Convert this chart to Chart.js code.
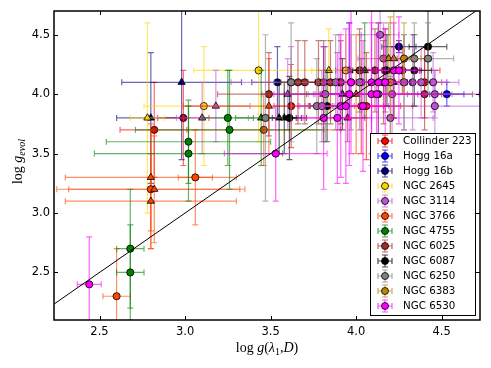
<!DOCTYPE html>
<html>
<head>
<meta charset="utf-8">
<script src="https://cdn.jsdelivr.net/npm/chart.js@4/dist/chart.umd.min.js"></script>
<style>
  html, body { margin: 0; padding: 0; background: #ffffff; }
</style>
</head>
<body>
<canvas id="chart" width="491" height="368"></canvas>
<script>
// axis ticks
const xTicks = [2.5, 3.0, 3.5, 4.0, 4.5];
const yTicks = [2.5, 3.0, 3.5, 4.0, 4.5];
const xRange = [2.234, 4.724];
const yRange = [2.1, 4.7];
const oneToOne = [2.2, 4.8];

// each point: [log g(lambda1,D), log g_evol, x error, y error, method ('c' or 't')]
const collinder223 = [
    [2.99, 3.8, 0.15, 0.40, 'c'], [2.82, 3.7, 0.20, 0.40, 'c'], [3.62, 3.9, 0.10, 0.35, 'c'],
    [4.03, 3.9, 0.30, 0.40, 'c'], [4.06, 3.9, 0.20, 0.45, 'c'], [4.40, 4.1, 0.10, 0.30, 'c'],
    [4.27, 4.2, 0.22, 0.20, 'c']
];
const hogg16a = [
    [4.53, 4.0, 0.10, 0.10, 'c'], [3.96, 4.2, 0.08, 0.40, 't']
];
const hogg16b = [
    [2.98, 4.1, 0.35, 0.65, 't'], [2.80, 3.8, 0.20, 0.55, 't'], [3.54, 4.1, 0.15, 0.30, 'c'],
    [4.25, 4.4, 0.10, 0.05, 'c']
];
const ngc2645 = [
    [2.78, 3.8, 0.10, 0.80, 't'], [3.11, 3.9, 0.35, 0.50, 'c'], [3.43, 4.2, 0.38, 0.60, 'c'],
    [3.84, 4.2, 0.10, 0.35, 't'], [3.94, 4.2, 0.10, 0.30, 'c']
];
const ngc3114 = [
    [3.10, 3.8, 0.15, 0.30, 't'], [3.18, 3.9, 0.20, 0.30, 't'], [3.60, 4.0, 0.15, 0.30, 't'],
    [3.62, 4.1, 0.35, 0.30, 'c'], [4.14, 4.5, 0.11, 0.20, 'c'], [4.16, 4.3, 0.15, 0.30, 'c'],
    [4.21, 4.0, 0.15, 0.40, 'c'], [4.20, 3.8, 0.25, 0.35, 'c'], [4.33, 4.1, 0.20, 0.40, 'c'],
    [4.38, 4.1, 0.15, 0.30, 'c'], [4.45, 4.1, 0.15, 0.25, 'c'], [4.46, 4.0, 0.10, 0.20, 'c'],
    [4.46, 3.9, 0.30, 0.30, 'c'], [4.28, 4.1, 0.10, 0.40, 'c'], [3.90, 4.1, 0.10, 0.40, 'c'],
    [4.03, 4.1, 0.10, 0.40, 'c']
];
const ngc3766 = [
    [2.60, 2.3, 0.08, 0.40, 'c'], [3.06, 3.3, 0.10, 0.40, 'c'], [2.80, 3.3, 0.50, 0.45, 't'],
    [2.80, 3.2, 0.55, 0.50, 'c'], [2.82, 3.2, 0.50, 0.45, 't'], [2.80, 3.1, 0.50, 0.40, 't'],
    [3.46, 3.7, 0.45, 0.30, 'c'], [3.49, 3.9, 0.50, 0.40, 't'], [4.00, 4.0, 0.20, 0.50, 't']
];
const ngc4755 = [
    [2.68, 2.7, 0.08, 0.50, 'c'], [2.68, 2.5, 0.08, 0.40, 'c'], [3.02, 3.6, 0.48, 0.35, 'c'],
    [3.02, 3.5, 0.55, 0.40, 'c'], [3.25, 3.8, 0.15, 0.40, 'c'], [3.26, 3.7, 0.55, 0.50, 'c'],
    [3.445, 3.8, 0.15, 0.40, 't'], [3.81, 4.0, 0.10, 0.40, 't'], [4.05, 4.2, 0.10, 0.40, 't'],
    [4.13, 4.0, 0.55, 0.60, 'c']
];
const ngc6025 = [
    [3.49, 4.0, 0.30, 0.35, 'c'], [3.66, 4.1, 0.10, 0.35, 'c'], [3.70, 4.1, 0.10, 0.35, 'c'],
    [3.78, 4.1, 0.10, 0.35, 'c'], [3.81, 4.1, 0.10, 0.35, 'c'], [3.85, 4.1, 0.15, 0.35, 'c'],
    [3.91, 4.1, 0.10, 0.35, 'c'], [4.02, 4.2, 0.10, 0.35, 'c'], [4.11, 4.2, 0.10, 0.35, 'c'],
    [4.17, 4.2, 0.20, 0.35, 'c'], [4.16, 4.1, 0.10, 0.35, 'c'], [3.95, 3.8, 0.10, 0.20, 't'],
    [4.40, 4.0, 0.10, 0.30, 'c']
];
const ngc6087 = [
    [4.42, 4.4, 0.11, 0.30, 'c'], [4.18, 4.2, 0.20, 0.30, 'c'], [4.34, 4.2, 0.10, 0.30, 'c'],
    [3.83, 3.9, 0.10, 0.30, 'c'], [3.61, 3.8, 0.10, 0.35, 'c'], [3.58, 3.8, 0.10, 0.30, 't'],
    [3.55, 3.8, 0.10, 0.30, 't'], [3.92, 4.0, 0.10, 0.30, 't'], [4.22, 4.1, 0.10, 0.30, 't']
];
const ngc6250 = [
    [3.47, 3.8, 0.10, 0.70, 'c'], [3.77, 3.9, 0.10, 0.40, 'c'], [3.80, 3.9, 0.10, 0.30, 'c'],
    [3.82, 4.0, 0.10, 0.40, 'c'], [3.88, 4.1, 0.10, 0.40, 'c'], [3.97, 4.1, 0.15, 0.40, 'c'],
    [4.02, 4.1, 0.10, 0.40, 'c'], [4.34, 4.3, 0.10, 0.30, 'c'], [4.42, 4.3, 0.15, 0.30, 'c'],
    [4.28, 4.1, 0.10, 0.40, 'c'], [3.62, 4.1, 0.10, 0.50, 'c']
];
const ngc6383 = [
    [4.19, 4.3, 0.05, 0.30, 't'], [4.22, 4.3, 0.05, 0.50, 't'], [4.28, 4.3, 0.10, 0.30, 'c'],
    [4.20, 4.1, 0.05, 0.55, 'c']
];
const ngc6530 = [
    [2.44, 2.4, 0.07, 0.40, 'c'], [3.53, 3.5, 0.30, 0.40, 'c'], [3.81, 3.8, 0.15, 0.60, 'c'],
    [3.89, 3.8, 0.20, 0.55, 'c'], [3.91, 3.9, 0.25, 0.60, 'c'], [3.94, 3.9, 0.15, 0.65, 'c'],
    [3.96, 4.0, 0.20, 0.60, 'c'], [4.04, 3.9, 0.15, 0.55, 'c'], [4.09, 4.0, 0.30, 0.60, 'c'],
    [4.12, 4.0, 0.60, 0.50, 'c'], [4.09, 4.1, 0.20, 0.60, 'c'], [4.13, 4.1, 0.15, 0.50, 'c'],
    [4.17, 4.1, 0.20, 0.45, 'c'], [4.22, 4.2, 0.15, 0.40, 'c'], [4.25, 4.2, 0.10, 0.45, 'c'],
    [3.97, 4.1, 0.15, 0.60, 'c']
];

const clusterNames = ['Collinder 223', 'Hogg 16a', 'Hogg 16b', 'NGC 2645', 'NGC 3114', 'NGC 3766',
    'NGC 4755', 'NGC 6025', 'NGC 6087', 'NGC 6250', 'NGC 6383', 'NGC 6530'];
const clusterPoints = [collinder223, hogg16a, hogg16b, ngc2645, ngc3114, ngc3766,
    ngc4755, ngc6025, ngc6087, ngc6250, ngc6383, ngc6530];
const clusterColors = ['#ff0000', '#0000ff', '#000080', '#ffd700', '#ba55d3', '#ff4500',
    '#008000', '#a52a2a', '#000000', '#808080', '#b8860b', '#ff00ff'];

function withAlpha(hex, a) {
    const n = parseInt(hex.slice(1), 16);
    return `rgba(${(n >> 16) & 255}, ${(n >> 8) & 255}, ${n & 255}, ${a})`;
}

// error bars are drawn just before each cluster's markers
const errorBars = {
    id: 'errorBars',
    beforeDatasetDraw(chart, args) {
        const ds = chart.data.datasets[args.index];
        if (!ds.errColor) return;
        const { ctx, chartArea: a } = chart;
        const xs = chart.scales.x, ys = chart.scales.y;
        const cap = 3;
        ctx.save();
        ctx.beginPath();
        ctx.rect(a.left, a.top, a.right - a.left, a.bottom - a.top);
        ctx.clip();
        ctx.strokeStyle = ds.errColor;
        ctx.lineWidth = 1.2;
        ds.data.forEach(p => {
            const x0 = xs.getPixelForValue(p.x - p.xe), x1 = xs.getPixelForValue(p.x + p.xe);
            const y0 = ys.getPixelForValue(p.y - p.ye), y1 = ys.getPixelForValue(p.y + p.ye);
            const px = xs.getPixelForValue(p.x), py = ys.getPixelForValue(p.y);
            ctx.beginPath();
            ctx.moveTo(x0, py); ctx.lineTo(x1, py);
            ctx.moveTo(x0, py - cap); ctx.lineTo(x0, py + cap);
            ctx.moveTo(x1, py - cap); ctx.lineTo(x1, py + cap);
            ctx.moveTo(px, y0); ctx.lineTo(px, y1);
            ctx.moveTo(px - cap, y0); ctx.lineTo(px + cap, y0);
            ctx.moveTo(px - cap, y1); ctx.lineTo(px + cap, y1);
            ctx.stroke();
        });
        ctx.restore();
    }
};

// draw runs of text with italic / subscript parts
function drawRuns(ctx, runs, size, cx, cy) {
    const fontFor = r => `${r.it ? 'italic ' : ''}${r.sub ? Math.round(size * 0.7) : size}px "Liberation Serif", serif`;
    let total = 0;
    runs.forEach(r => { ctx.font = fontFor(r); total += ctx.measureText(r.t).width; });
    let x = cx - total / 2;
    ctx.textBaseline = 'alphabetic';
    ctx.textAlign = 'left';
    runs.forEach(r => {
        ctx.font = fontFor(r);
        ctx.fillText(r.t, x, cy + (r.sub ? size * 0.22 : 0));
        x += ctx.measureText(r.t).width;
    });
}

const frameAndLabels = {
    id: 'frameAndLabels',
    afterDraw(chart) {
        const { ctx, chartArea: a } = chart;
        const xs = chart.scales.x, ys = chart.scales.y;
        ctx.save();
        ctx.strokeStyle = '#000';
        // inward ticks on all four sides
        ctx.lineWidth = 1;
        ctx.beginPath();
        xTicks.forEach(v => {
            const px = Math.round(xs.getPixelForValue(v)) + 0.5;
            ctx.moveTo(px, a.bottom); ctx.lineTo(px, a.bottom - 4);
            ctx.moveTo(px, a.top); ctx.lineTo(px, a.top + 4);
        });
        yTicks.forEach(v => {
            const py = Math.round(ys.getPixelForValue(v)) + 0.5;
            ctx.moveTo(a.left, py); ctx.lineTo(a.left + 4, py);
            ctx.moveTo(a.right, py); ctx.lineTo(a.right - 4, py);
        });
        ctx.stroke();
        ctx.lineWidth = 1.5;
        ctx.strokeRect(a.left, a.top, a.right - a.left, a.bottom - a.top);

        // legend box
        const lx = 370, ly = 133, lw = 105, lh = 182;
        ctx.fillStyle = '#fff';
        ctx.fillRect(lx, ly, lw, lh);
        ctx.lineWidth = 1;
        ctx.strokeRect(lx + 0.5, ly + 0.5, lw, lh);
        clusterNames.forEach((name, i) => {
            const cy = ly + 8 + i * 15, mx = 385;
            ctx.strokeStyle = withAlpha(clusterColors[i], 0.7);
            ctx.lineWidth = 1.2;
            ctx.beginPath();
            ctx.moveTo(mx - 7, cy); ctx.lineTo(mx + 7, cy);
            ctx.moveTo(mx - 7, cy - 3); ctx.lineTo(mx - 7, cy + 3);
            ctx.moveTo(mx + 7, cy - 3); ctx.lineTo(mx + 7, cy + 3);
            ctx.moveTo(mx, cy - 6); ctx.lineTo(mx, cy + 6);
            ctx.moveTo(mx - 3, cy - 6); ctx.lineTo(mx + 3, cy - 6);
            ctx.moveTo(mx - 3, cy + 6); ctx.lineTo(mx + 3, cy + 6);
            ctx.stroke();
            ctx.beginPath();
            ctx.arc(mx, cy, 3.5, 0, Math.PI * 2);
            ctx.fillStyle = clusterColors[i];
            ctx.fill();
            ctx.strokeStyle = '#000';
            ctx.lineWidth = 0.8;
            ctx.stroke();
            ctx.lineWidth = 1;
            ctx.fillStyle = '#000';
            ctx.font = '10.3px "DejaVu Sans"';
            ctx.textAlign = 'left';
            ctx.textBaseline = 'middle';
            ctx.fillText(name, 403, cy + 0.5);
        });

        // axis titles
        ctx.fillStyle = '#000';
        drawRuns(ctx, [
            { t: 'log ' }, { t: 'g', it: true }, { t: '(' }, { t: 'λ', it: true },
            { t: '1', sub: true }, { t: ',' }, { t: 'D', it: true }, { t: ')' }
        ], 14, (a.left + a.right) / 2, 352);
        ctx.save();
        ctx.translate(22, (a.top + a.bottom) / 2 - 4);
        ctx.rotate(-Math.PI / 2);
        drawRuns(ctx, [
            { t: 'log ' }, { t: 'g', it: true }, { t: 'evol', it: true, sub: true }
        ], 14, 0, 0);
        ctx.restore();
        ctx.restore();
    }
};

const datasets = clusterPoints.map((pts, i) => ({
    label: clusterNames[i],
    data: pts.map(p => ({ x: p[0], y: p[1], xe: p[2], ye: p[3], m: p[4] })),
    backgroundColor: clusterColors[i],
    borderColor: '#000000',
    borderWidth: 0.8,
    errColor: withAlpha(clusterColors[i], 0.6),
    pointStyle: ctx => (ctx.raw && ctx.raw.m === 't') ? 'triangle' : 'circle',
    pointRadius: ctx => (ctx.raw && ctx.raw.m === 't') ? 4.2 : 3.6,
    order: clusterPoints.length - i
}));

datasets.push({
    type: 'line',
    label: 'one-to-one',
    data: oneToOne.map(v => ({ x: v, y: v })),
    borderColor: '#000000',
    borderWidth: 1,
    pointRadius: 0,
    fill: false,
    order: 0
});

const tickFont = { family: 'DejaVu Sans', size: 11.5 };

new Chart(document.getElementById('chart').getContext('2d'), {
    type: 'scatter',
    data: { datasets: datasets },
    options: {
        responsive: false,
        animation: false,
        events: [],
        layout: { padding: { top: 11, right: 11, left: 0, bottom: 0 } },
        plugins: {
            legend: { display: false },
            tooltip: { enabled: false }
        },
        scales: {
            x: {
                type: 'linear',
                min: xRange[0],
                max: xRange[1],
                grid: { display: false, drawTicks: false },
                border: { display: false },
                ticks: {
                    color: '#000',
                    font: tickFont,
                    padding: 5,
                    maxRotation: 0,
                    callback: v => v.toFixed(1)
                },
                afterBuildTicks: s => { s.ticks = xTicks.map(v => ({ value: v })); },
                afterFit: s => { s.height = 48; }
            },
            y: {
                type: 'linear',
                min: yRange[0],
                max: yRange[1],
                grid: { display: false, drawTicks: false },
                border: { display: false },
                ticks: {
                    color: '#000',
                    font: tickFont,
                    padding: 4,
                    callback: v => v.toFixed(1)
                },
                afterBuildTicks: s => { s.ticks = yTicks.map(v => ({ value: v })); },
                afterFit: s => { s.height = undefined; s.width = 54; }
            }
        }
    },
    plugins: [errorBars, frameAndLabels]
});
</script>
</body>
</html>
